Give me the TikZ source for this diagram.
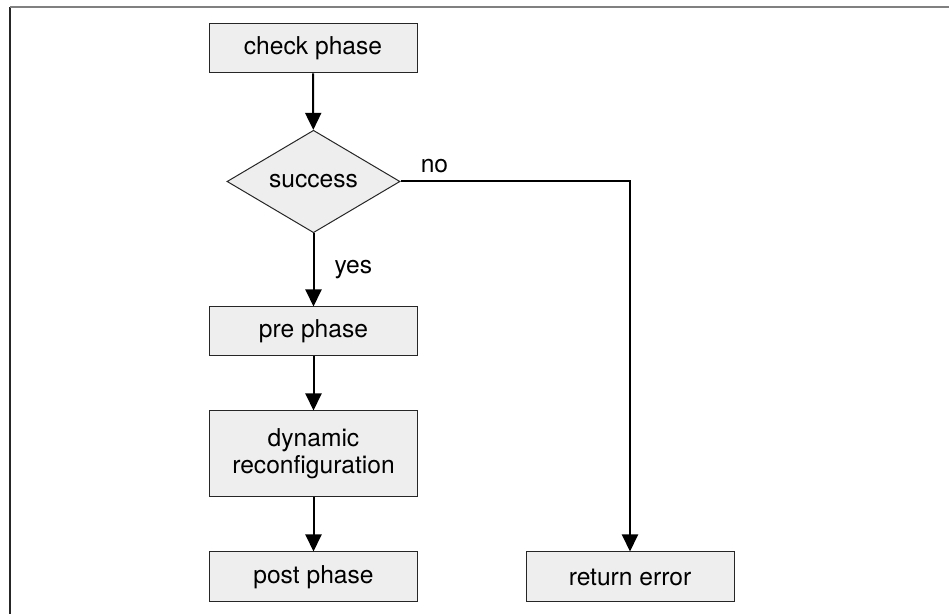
\documentclass[tikz,border=0pt]{standalone}
\usepackage{fontspec}
\setmainfont{TeX Gyre Heros}
\usetikzlibrary{arrows.meta,shapes.geometric}
\definecolor{boxfill}{RGB}{238,238,238}
\tikzset{
  box/.style={draw=black!85,line width=.5pt,fill=boxfill,inner sep=0pt,minimum width=104pt,minimum height=24.5pt,align=center},
  decision/.style={diamond,draw=black!85,line width=.5pt,fill=boxfill,inner sep=0pt,minimum width=86.5pt,minimum height=50.5pt},
  flow/.style={line width=1pt,-{Triangle[length=8.5pt,width=8pt]}},
  lbl/.style={inner sep=0pt},
  frameline/.style={line width=.6pt}
}

\begin{document}
\begin{tikzpicture}[x=.5pt,y=-.5pt,every node/.style={font=\fontsize{12.3}{13.5}\selectfont}]
  \useasboundingbox (0,0) rectangle (949,614);
  \draw[frameline,draw=black!85] (10,7) -- (10,614);
  \draw[frameline,draw=gray] (10,7) -- (949,7);
  \coordinate (Pcheck) at (313,48.5); \coordinate (Psucc) at (313.5,181.5); \coordinate (Ppre) at (313.5,331.5);
  \coordinate (Pdyn) at (313.5,454); \coordinate (Ppost) at (313.5,577); \coordinate (Perr) at (630,577);
  \coordinate (corner) at (630,181.5);
  \node[box] (check) at (Pcheck) {check phase};
  \node[decision] (succ) at (Psucc) {success};
  \node[box] (pre) at (Ppre) {pre phase};
  \node[box,minimum height=43pt] (dyn) at (Pdyn) {dynamic\\reconfiguration};
  \node[box,minimum height=25pt] (post) at (Ppost) {post phase};
  \node[box,minimum height=25pt] (err) at (Perr) {return error};
  \draw[flow] (check) -- (succ);
  \draw[flow] (succ) -- node[lbl,right=10pt] (yes) {yes} (pre);
  \draw[flow] (pre) -- (dyn);
  \draw[flow] (dyn) -- (post);
  \draw[flow] (succ.east) -- node[lbl,pos=.148,above=4pt] (no) {no} (corner) -- (err);
\end{tikzpicture}
\end{document}
